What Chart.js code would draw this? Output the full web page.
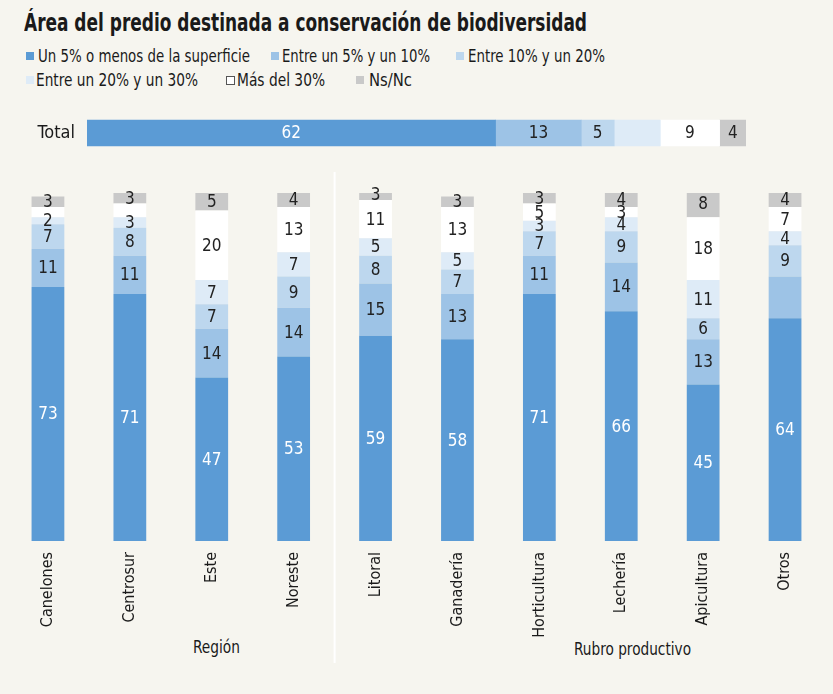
<!DOCTYPE html>
<html>
<head>
<meta charset="utf-8">
<script src="https://cdn.jsdelivr.net/npm/chart.js@4.4.1/dist/chart.umd.min.js"></script>
<style>
  html, body { margin:0; padding:0; background:#f6f5ef; }
  body { width:833px; height:694px; position:relative; overflow:hidden; color:#1a1a1a; }
  #title { position:absolute; left:24px; top:8px; font-size:25px; font-weight:bold; white-space:nowrap; transform-origin:0 0; }
  .leg { position:absolute; font-size:18px; white-space:nowrap; line-height:20px; transform-origin:0 0; }
  .sq { position:absolute; width:8px; height:8px; }
  .grp { position:absolute; font-size:18px; white-space:nowrap; transform-origin:0 0; }
  #cTotal { position:absolute; left:0; top:93px; }
  #cMain { position:absolute; left:0; top:160px; }
</style>
</head>
<body>
<div id="title">Área del predio destinada a conservación de biodiversidad</div>
<div id="legend"></div>
<div class="grp" id="g0"></div>
<div class="grp" id="g1"></div>
<canvas id="cTotal" width="833" height="80"></canvas>
<canvas id="cMain" width="833" height="534"></canvas>
<script>
// ---- data ----
const seriesNames = ["Un 5% o menos de la superficie","Entre un 5% y un 10%","Entre 10% y un 20%","Entre un 20% y un 30%","Más del 30%","Ns/Nc"];
const seriesColors = ["#5b9bd5","#9dc3e6","#bdd7ee","#deebf7","#ffffff","#c9c9c9"];
const totalLabel = ["Total"];
const totalValues = [62, 13, 5, 7, 9, 4];
const totalHiddenLabels = [3];

const categories = ["Canelones","Centrosur","Este","Noreste","Litoral","Ganadería","Horticultura","Lechería","Apicultura","Otros"];
const s1 = [73, 71, 47, 53, 59, 58, 71, 66, 45, 64];
const s2 = [11, 11, 14, 14, 15, 13, 11, 14, 13, 12];
const s3 = [7, 8, 7, 9, 8, 7, 7, 9, 6, 9];
const s4 = [2, 3, 7, 7, 5, 5, 3, 4, 11, 4];
const s5 = [3, 4, 20, 13, 11, 13, 5, 3, 18, 7];
const s6 = [3, 3, 5, 4, 3, 3, 3, 4, 8, 4];
// [series index, category index] of segments whose value is not printed
const hiddenLabels = [[4,0],[4,1],[1,9]];

const groupNames = ["Región","Rubro productivo"];

// ---- font detection ----
function hasFont(name){
  const c = document.createElement('canvas').getContext('2d');
  const s = 'abcdefghijklmnopqrstuvwxyzÁ0123456789';
  for (const base of ['monospace','serif']) {
    c.font = '40px ' + base; const w0 = c.measureText(s).width;
    c.font = '40px "' + name + '", ' + base; const w1 = c.measureText(s).width;
    if (Math.abs(w0-w1) > 0.5) return true;
  }
  return false;
}
const candidates = ['Noto Sans Condensed','Noto Sans SemiCondensed','DejaVu Sans Condensed','Liberation Sans Narrow','Roboto'];
const picked = candidates.find(hasFont) || 'sans-serif';
const FONT = '"' + picked + '", "DejaVu Sans Condensed", sans-serif';
document.body.style.fontFamily = FONT;

// fit an HTML text element horizontally to a target width
function fitWidth(el, w){
  const r = el.getBoundingClientRect().width;
  if (r > 0) el.style.transform = 'scaleX(' + (w/r) + ')';
}

// ---- title ----
fitWidth(document.getElementById('title'), 563);

// ---- legend (HTML) ----
const legPos = [[26,38,46,212],[271,282,46,148],[456,468,46,137],[26,36,70,162],[226,237,70,88],[356,369,70,43]];
const legDiv = document.getElementById('legend');
seriesNames.forEach((n,i)=>{
  const [sx,tx,ty,tw] = legPos[i];
  const sq = document.createElement('div');
  sq.className='sq';
  sq.style.left=sx+'px'; sq.style.top=(ty+6)+'px';
  sq.style.background=seriesColors[i];
  if (i===4) { sq.style.border='1px solid #555'; sq.style.width='7px'; sq.style.height='7px'; }
  legDiv.appendChild(sq);
  const t = document.createElement('div');
  t.className='leg'; t.textContent=n;
  t.style.left=tx+'px'; t.style.top=ty+'px';
  legDiv.appendChild(t);
  fitWidth(t, tw);
});

// ---- value label plugin ----
const valueLabels = {
  id:'valueLabels',
  afterDatasetsDraw(chart, args, opts){
    const ctx = chart.ctx;
    ctx.save();
    ctx.font = '17px ' + FONT;
    ctx.textAlign='center'; ctx.textBaseline='middle';
    chart.data.datasets.forEach((ds,di)=>{
      const meta = chart.getDatasetMeta(di);
      meta.data.forEach((el,ci)=>{
        if (opts.hidden(di,ci)) return;
        const v = ds.data[ci];
        const p = el.getCenterPoint();
        ctx.fillStyle = di===0 ? '#ffffff' : '#222222';
        ctx.fillText(String(v), p.x, p.y+1);
      });
    });
    ctx.restore();
  }
};

// ---- separator between the two groups ----
const separator = {
  id:'separator',
  beforeDatasetsDraw(chart){
    const x = chart.scales.x;
    const xp = (x.getPixelForValue(3)+x.getPixelForValue(4))/2;
    const ctx = chart.ctx;
    ctx.save();
    ctx.strokeStyle='#ffffff'; ctx.lineWidth=2;
    ctx.beginPath(); ctx.moveTo(xp, 12); ctx.lineTo(xp, 503); ctx.stroke();
    ctx.restore();
  }
};

// ---- Total chart ----
new Chart(document.getElementById('cTotal'), {
  type:'bar',
  data:{
    labels: totalLabel,
    datasets: totalValues.map((v,i)=>({label:seriesNames[i], data:[v], backgroundColor:seriesColors[i], borderWidth:0,
      barThickness:26}))
  },
  options:{
    indexAxis:'y', responsive:false, animation:false,
    layout:{padding:{left:0,right:87,top:0,bottom:0}},
    plugins:{legend:{display:false}, tooltip:{enabled:false},
      valueLabels:{hidden:(di,ci)=>totalHiddenLabels.includes(di)}},
    scales:{
      x:{stacked:true, min:0, max:100, display:false},
      y:{stacked:true, grid:{display:false, drawTicks:false}, border:{display:false},
         ticks:{color:'#1a1a1a', font:{family:FONT, size:18}, padding:12},
         afterFit(s){ s.width = 87; }}
    }
  },
  plugins:[valueLabels]
});

// ---- Main chart ----
const mainData = [s1,s2,s3,s4,s5,s6];
new Chart(document.getElementById('cMain'), {
  type:'bar',
  data:{
    labels: categories,
    datasets: mainData.map((d,i)=>({label:seriesNames[i], data:d, backgroundColor:seriesColors[i], borderWidth:0,
       barPercentage:0.8, categoryPercentage:0.5}))
  },
  options:{
    responsive:false, animation:false,
    layout:{padding:{left:7,right:7,top:33,bottom:0}},
    plugins:{legend:{display:false}, tooltip:{enabled:false},
      valueLabels:{hidden:(di,ci)=>hiddenLabels.some(h=>h[0]===di&&h[1]===ci)}},
    scales:{
      x:{stacked:true, grid:{display:false, drawTicks:false}, border:{display:false},
         ticks:{color:'#1a1a1a', font:{family:FONT, size:16}, padding:11, minRotation:90, maxRotation:90, autoSkip:false},
         afterFit(s){ s.height = 153; }},
      y:{stacked:true, min:0, max:100, display:false}
    }
  },
  plugins:[valueLabels, separator]
});

// group labels (centre x, top y, width as in the original)
const gPos = [[216,636,47],[632,638,117]];
groupNames.forEach((n,i)=>{
  const el = document.getElementById('g'+i);
  el.textContent = n;
  const [cx,ty,w] = gPos[i];
  el.style.top = ty+'px';
  el.style.left = (cx - w/2) + 'px';
  fitWidth(el, w);
});
</script>
</body>
</html>
